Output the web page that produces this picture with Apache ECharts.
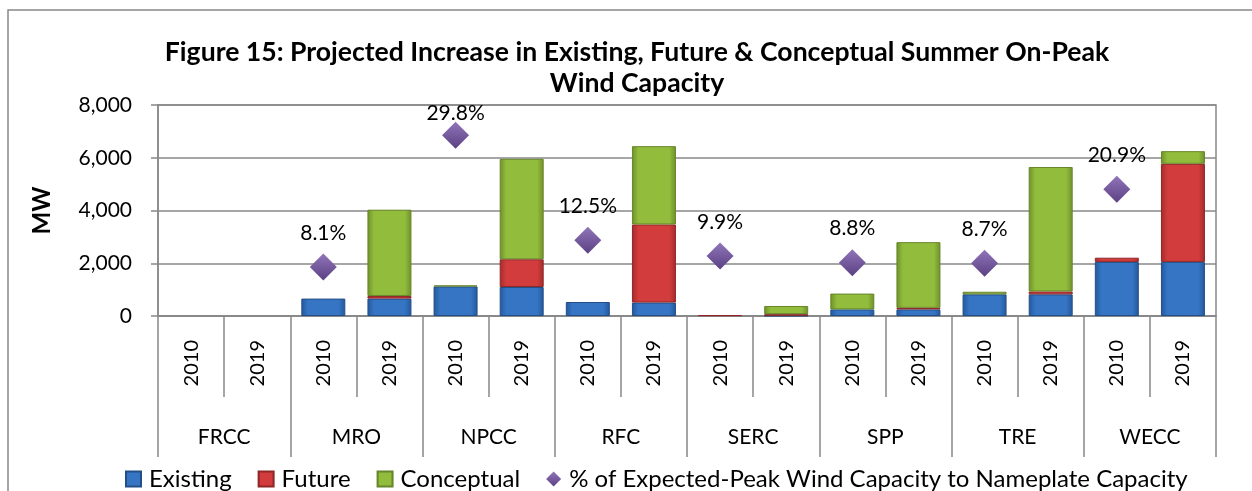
<!DOCTYPE html>
<html>
<head>
<meta charset="utf-8">
<script src="https://cdn.jsdelivr.net/npm/echarts@6/dist/echarts.min.js"></script>
<style>
  html, body { margin: 0; padding: 0; background: #fff; }
  #main { width: 1252px; height: 491px; }
</style>
</head>
<body>
<div id="main"></div>
<script>
// year slots, two per region
var years = ['2010', '2019', '2010', '2019', '2010', '2019', '2010', '2019',
             '2010', '2019', '2010', '2019', '2010', '2019', '2010', '2019'];
var regions = ['FRCC', 'MRO', 'NPCC', 'RFC', 'SERC', 'SPP', 'TRE', 'WECC'];

// MW
var existing   = [0, 0, 660, 660, 1120, 1100, 530, 510, 0, 10, 250, 250, 820, 820, 2050, 2050];
var future     = [0, 0, 0, 100, 0, 1050, 0, 2960, 30, 60, 0, 60, 0, 110, 160, 3720];
var conceptual = [0, 0, 0, 3270, 40, 3810, 0, 2970, 0, 310, 600, 2490, 100, 4720, 0, 480];
// % of expected-peak wind capacity to nameplate capacity
var pct = [null, null, 8.1, null, 29.8, null, 12.5, null, 9.9, null, 8.8, null, 8.7, null, 20.9, null];

var yTicks = [0, 2000, 4000, 6000, 8000];

var FONT = 'Lato';

// empty slots should draw nothing (no border sliver)
function nz(v) { return v === 0 ? null : v; }

function barGrad(edge, mid) {
  return new echarts.graphic.LinearGradient(0, 0, 1, 0, [
    { offset: 0, color: edge },
    { offset: 0.15, color: mid },
    { offset: 0.85, color: mid },
    { offset: 1, color: edge }
  ]);
}

var chart = echarts.init(document.getElementById('main'));

var option = {
  backgroundColor: '#fff',
  animation: false,
  textStyle: { fontFamily: FONT, color: '#000' },
  title: {
    text: 'Figure 15: Projected Increase in Existing, Future & Conceptual Summer On-Peak\nWind Capacity',
    left: 632,
    textAlign: 'center',
    top: 32,
    textStyle: { fontFamily: FONT, fontWeight: 'bold', fontSize: 26.6, lineHeight: 31, color: '#000' }
  },
  graphic: [{
    type: 'rect',
    shape: { x: 8, y: 10, width: 1300, height: 600 },
    style: { fill: null, stroke: '#888', lineWidth: 1.5 },
    silent: true,
    z: -1
  }],
  legend: {
    top: 462,
    left: 120,
    itemWidth: 15,
    itemHeight: 15,
    itemGap: 26,
    textStyle: { fontFamily: FONT, fontSize: 24, color: '#000', padding: [0, 0, 0, 3] },
    data: [
      { name: 'Existing', icon: 'rect' },
      { name: 'Future', icon: 'rect' },
      { name: 'Conceptual', icon: 'rect' },
      { name: '% of Expected-Peak Wind Capacity to Nameplate Capacity', icon: 'diamond' }
    ]
  },
  grid: {
    left: 158,
    right: 36,
    top: 105,
    bottom: 175,
    show: true,
    borderColor: '#888',
    borderWidth: 1.5
  },
  xAxis: [{
    type: 'category',
    data: years,
    axisLine: { show: true, lineStyle: { color: '#888', width: 1.5 } },
    axisTick: { show: true, interval: 0, length: 81, lineStyle: { color: '#888', width: 1.5 } },
    axisLabel: { rotate: 90, interval: 0, margin: 24, fontSize: 20, color: '#000', fontFamily: FONT }
  }, {
    type: 'category',
    data: regions,
    position: 'bottom',
    axisLine: { show: false },
    axisTick: { show: true, interval: 0, length: 141, lineStyle: { color: '#888', width: 1.5 } },
    axisLabel: { interval: 0, margin: 111, fontSize: 21, color: '#000', fontFamily: FONT }
  }],
  yAxis: [{
    type: 'value',
    min: yTicks[0],
    max: yTicks[yTicks.length - 1],
    interval: 2000,
    name: 'MW',
    nameLocation: 'middle',
    nameRotate: 90,
    nameGap: 104,
    nameTextStyle: { fontFamily: FONT, fontWeight: 'bold', fontSize: 24, color: '#000' },
    axisLine: { show: true, lineStyle: { color: '#888', width: 1.5 } },
    axisTick: { show: true, length: 7, lineStyle: { color: '#888', width: 1.5 } },
    splitLine: { lineStyle: { color: '#888', width: 1.5 } },
    axisLabel: {
      margin: 26,
      fontSize: 21,
      color: '#000',
      fontFamily: FONT,
      formatter: function (v) { return v.toLocaleString('en-US'); }
    }
  }, {
    type: 'value',
    min: 0,
    max: 34.8,
    show: false,
    splitLine: { show: false }
  }],
  series: [{
    name: 'Existing',
    type: 'bar',
    stack: 'mw',
    barWidth: 44,
    data: existing.map(nz),
    itemStyle: { color: barGrad('#24579a', '#3575c4'), borderColor: '#234f87', borderWidth: 1 }
  }, {
    name: 'Future',
    type: 'bar',
    stack: 'mw',
    barWidth: 44,
    data: future.map(nz),
    itemStyle: { color: barGrad('#a42b2b', '#d33c3c'), borderColor: '#8f2727', borderWidth: 1 }
  }, {
    name: 'Conceptual',
    type: 'bar',
    stack: 'mw',
    barWidth: 44,
    data: conceptual.map(nz),
    itemStyle: { color: barGrad('#6e8f2a', '#92bd3c'), borderColor: '#67852a', borderWidth: 1 }
  }, {
    name: '% of Expected-Peak Wind Capacity to Nameplate Capacity',
    type: 'scatter',
    yAxisIndex: 1,
    symbol: 'diamond',
    symbolSize: [27, 27],
    // labels near the top of the plot get pulled down so they stay inside it
    data: pct.map(function (v) {
      if (v === null) return null;
      return v > 28 ? { value: v, label: { distance: -2 } } : v;
    }),
    z: 5,
    itemStyle: {
      opacity: 1,
      color: new echarts.graphic.LinearGradient(0, 0, 0, 1, [
        { offset: 0, color: '#9075b8' },
        { offset: 1, color: '#5b4183' }
      ])
    },
    label: {
      show: true,
      position: 'top',
      distance: 10,
      fontSize: 21,
      color: '#000',
      fontFamily: FONT,
      formatter: function (p) { return p.value.toFixed(1) + '%'; }
    }
  }]
};

chart.setOption(option);
</script>
</body>
</html>
